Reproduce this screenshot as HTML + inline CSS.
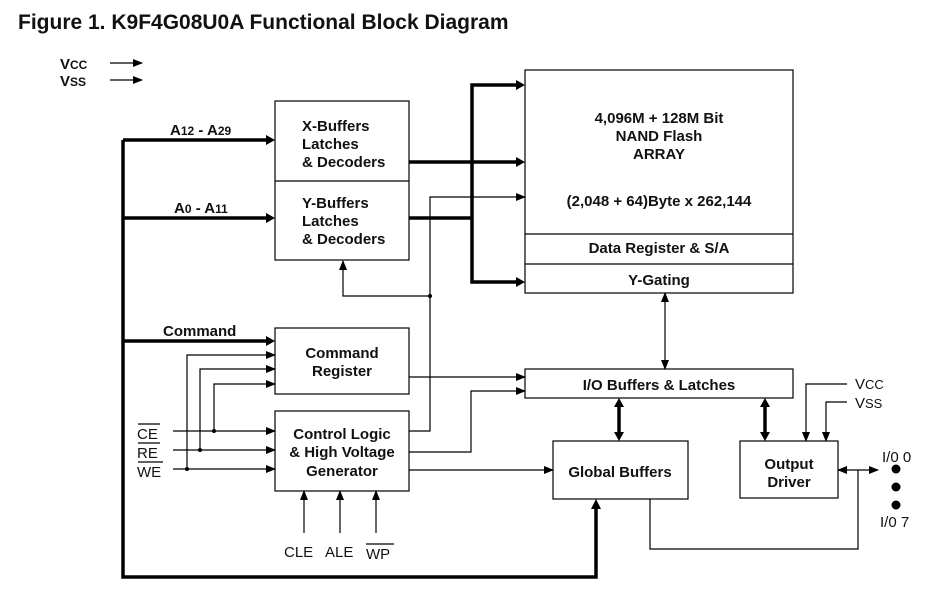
<!DOCTYPE html>
<html><head><meta charset="utf-8"><style>
html,body{margin:0;padding:0;background:#fff;width:934px;height:595px;overflow:hidden}
svg text{font-family:"Liberation Sans",Arial,sans-serif;fill:#111}
.b{font-weight:bold;font-size:15px}
.n{font-size:15px}
</style></head><body>
<svg width="934" height="595" viewBox="0 0 934 595" xmlns="http://www.w3.org/2000/svg">
<defs>
<marker id="a" markerWidth="10" markerHeight="8" refX="9" refY="4" orient="auto" markerUnits="userSpaceOnUse"><path d="M0,0 L10,4 L0,8 z" fill="#000"/></marker>
<marker id="as" markerWidth="10" markerHeight="8" refX="1" refY="4" orient="auto" markerUnits="userSpaceOnUse"><path d="M10,0 L0,4 L10,8 z" fill="#000"/></marker>
</defs>
<text x="18" y="29" style="font-weight:bold;font-size:21px">Figure 1. K9F4G08U0A Functional Block Diagram</text>
<text x="60" y="69" class="b">V<tspan font-size="12">CC</tspan></text>
<text x="60" y="86" class="b">V<tspan font-size="12">SS</tspan></text>
<g stroke="#000" fill="none" stroke-width="1.2">
<line x1="110" y1="63" x2="142" y2="63" marker-end="url(#a)"/>
<line x1="110" y1="80" x2="142" y2="80" marker-end="url(#a)"/>
<!-- boxes -->
<rect x="275" y="101" width="134" height="159"/>
<line x1="275" y1="181" x2="409" y2="181"/>
<rect x="525" y="70" width="268" height="223"/>
<line x1="525" y1="234" x2="793" y2="234"/>
<line x1="525" y1="264" x2="793" y2="264"/>
<rect x="275" y="328" width="134" height="66"/>
<rect x="275" y="411" width="134" height="80"/>
<rect x="525" y="369" width="268" height="29"/>
<rect x="553" y="441" width="135" height="58"/>
<rect x="740" y="441" width="98" height="57"/>
</g>
<g stroke="#000" fill="none" stroke-width="3.5">
<polyline points="123,140 123,577 596,577 596,506"/>
<line x1="123" y1="140" x2="268" y2="140"/>
<line x1="123" y1="218" x2="268" y2="218"/>
<line x1="123" y1="341" x2="268" y2="341"/>
<line x1="409" y1="162" x2="518" y2="162"/>
<line x1="409" y1="218" x2="472" y2="218"/>
<polyline points="518,85 472,85 472,282 518,282"/>
<line x1="619" y1="405" x2="619" y2="434"/>
<line x1="765" y1="405" x2="765" y2="434"/>
</g>
<g fill="#000">
<path d="M275,140 l-9,-5 v10z"/><path d="M275,218 l-9,-5 v10z"/><path d="M275,341 l-9,-5 v10z"/>
<path d="M525,85 l-9,-5 v10z"/><path d="M525,162 l-9,-5 v10z"/><path d="M525,282 l-9,-5 v10z"/>
<path d="M596,499 l-5,10 h10z"/>
<path d="M619,398 l-5,9 h10z"/><path d="M619,441 l-5,-9 h10z"/>
<path d="M765,398 l-5,9 h10z"/><path d="M765,441 l-5,-9 h10z"/>
<circle cx="430" cy="296" r="2"/><circle cx="187" cy="469" r="2"/><circle cx="200" cy="450" r="2"/><circle cx="214" cy="431" r="2"/>
<circle cx="896" cy="469" r="4.5"/><circle cx="896" cy="487" r="4.5"/><circle cx="896" cy="505" r="4.5"/>
</g>
<g stroke="#000" fill="none" stroke-width="1.2">
<polyline points="409,431 430,431 430,197 525,197" marker-end="url(#a)"/>
<polyline points="430,296 343,296 343,261" marker-end="url(#a)"/>
<line x1="665" y1="293" x2="665" y2="369" marker-start="url(#as)" marker-end="url(#a)"/>
<line x1="173" y1="431" x2="275" y2="431" marker-end="url(#a)"/>
<line x1="173" y1="450" x2="275" y2="450" marker-end="url(#a)"/>
<line x1="173" y1="469" x2="275" y2="469" marker-end="url(#a)"/>
<polyline points="187,469 187,355 275,355" marker-end="url(#a)"/>
<polyline points="200,450 200,369 275,369" marker-end="url(#a)"/>
<polyline points="214,431 214,384 275,384" marker-end="url(#a)"/>
<line x1="409" y1="377" x2="525" y2="377" marker-end="url(#a)"/>
<polyline points="409,452 471,452 471,391 525,391" marker-end="url(#a)"/>
<line x1="409" y1="470" x2="553" y2="470" marker-end="url(#a)"/>
<line x1="304" y1="533" x2="304" y2="491" marker-end="url(#a)"/>
<line x1="340" y1="533" x2="340" y2="491" marker-end="url(#a)"/>
<line x1="376" y1="533" x2="376" y2="491" marker-end="url(#a)"/>
<polyline points="847,384 806,384 806,441" marker-end="url(#a)"/>
<polyline points="847,402 826,402 826,441" marker-end="url(#a)"/>
<line x1="838" y1="470" x2="878" y2="470" marker-start="url(#as)" marker-end="url(#a)"/>
<polyline points="858,470 858,549 650,549 650,499"/>
<line x1="138" y1="424" x2="160" y2="424"/><line x1="138" y1="443" x2="160" y2="443"/><line x1="138" y1="462" x2="163" y2="462"/>
<line x1="366" y1="544" x2="394" y2="544"/>
</g>
<text x="170" y="135" class="b">A<tspan font-size="12">12</tspan> - A<tspan font-size="12">29</tspan></text>
<text x="174" y="213" class="b">A<tspan font-size="12">0</tspan> - A<tspan font-size="12">11</tspan></text>
<text x="163" y="336" class="b">Command</text>
<text x="302" y="131" class="b">X-Buffers</text><text x="302" y="149" class="b">Latches</text><text x="302" y="167" class="b">&amp; Decoders</text>
<text x="302" y="208" class="b">Y-Buffers</text><text x="302" y="226" class="b">Latches</text><text x="302" y="244" class="b">&amp; Decoders</text>
<g class="b" text-anchor="middle">
<text x="659" y="123" class="b">4,096M + 128M Bit</text>
<text x="659" y="141" class="b">NAND Flash</text>
<text x="659" y="159" class="b">ARRAY</text>
<text x="659" y="206" class="b">(2,048 + 64)Byte x 262,144</text>
<text x="659" y="253" class="b">Data Register &amp; S/A</text>
<text x="659" y="285" class="b">Y-Gating</text>
<text x="342" y="358" class="b">Command</text>
<text x="342" y="376" class="b">Register</text>
<text x="342" y="439" class="b">Control Logic</text>
<text x="342" y="457" class="b">&amp; High Voltage</text>
<text x="342" y="476" class="b">Generator</text>
<text x="659" y="390" class="b">I/O Buffers &amp; Latches</text>
<text x="620" y="477" class="b">Global Buffers</text>
<text x="789" y="469" class="b">Output</text>
<text x="789" y="487" class="b">Driver</text>
</g>
<text x="137" y="439" class="n">CE</text>
<text x="137" y="458" class="n">RE</text>
<text x="137" y="477" class="n">WE</text>
<text x="284" y="557" class="n">CLE</text>
<text x="325" y="557" class="n">ALE</text>
<text x="366" y="559" class="n">WP</text>
<text x="855" y="389" class="n">V<tspan font-size="13">CC</tspan></text>
<text x="855" y="408" class="n">V<tspan font-size="13">SS</tspan></text>
<text x="882" y="462" class="n">I/0 0</text>
<text x="880" y="527" class="n">I/0 7</text>
</svg>
</body></html>
